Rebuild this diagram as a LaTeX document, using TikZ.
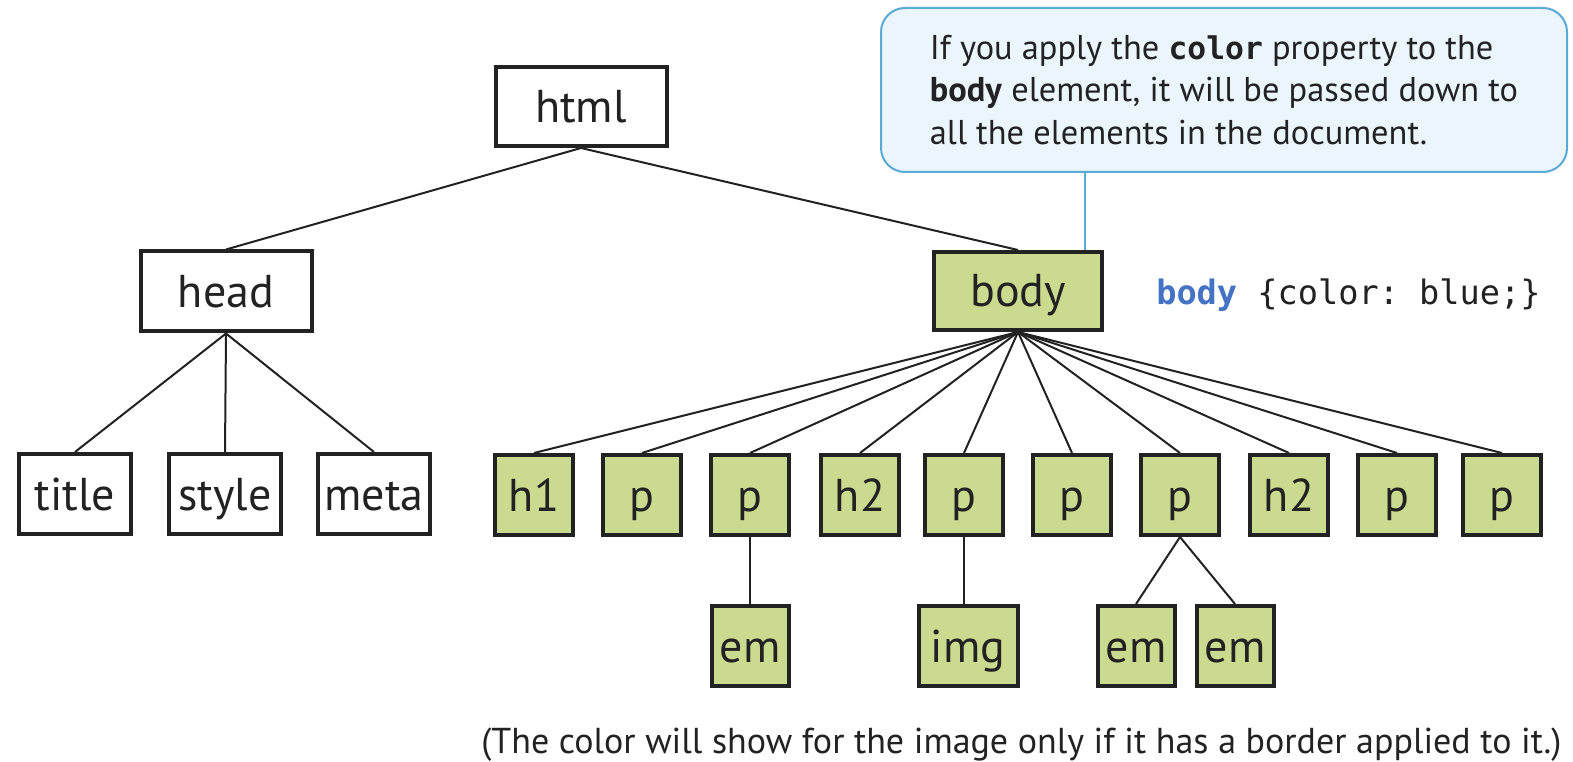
\documentclass[tikz,border=0pt]{standalone}
\usepackage{fontspec}
\setmainfont{PT Sans}
\setmonofont{DejaVu Sans Mono}
\usetikzlibrary{calc}
\definecolor{boxgreen}{HTML}{CADB8F}
\definecolor{edgedark}{HTML}{222222}
\definecolor{calloutfill}{HTML}{EAF5FC}
\definecolor{calloutline}{HTML}{5AAAD8}
\definecolor{cssblue}{HTML}{4472C4}
\begin{document}
\begin{tikzpicture}[x=0.75pt,y=-0.75pt,
  tag/.style={draw=edgedark, line width=3pt, inner sep=0pt,
    font=\fontsize{34.5}{40}\selectfont, text height=25.5pt, text depth=1.5pt, text=edgedark},
  plainbox/.style={tag, fill=white},
  greenbox/.style={tag, fill=boxgreen, minimum width=58.5pt, minimum height=60pt},
  link/.style={draw=edgedark, line width=1.5pt},
  callbox/.style={draw=calloutline, fill=calloutfill, line width=1.5pt, rounded corners=18pt,
    minimum width=514.5pt, minimum height=123pt, align=left,
    inner sep=0pt, font=\fontsize{25.8}{32}\selectfont, text=edgedark},
  callink/.style={draw=calloutline, line width=1.5pt}
]
\useasboundingbox (0,0) rectangle (1573,762);

% top levels
\node[plainbox, minimum width=128.25pt, minimum height=59.25pt] (html) at (581,106.5) {html};
\node[plainbox, minimum width=128.25pt, minimum height=60pt] (head) at (226,291.5) {head};
\node[greenbox, minimum width=126pt, minimum height=58.5pt] (body) at (1018,291) {body};

% head children
\node[plainbox, minimum width=84pt, minimum height=60pt] (title) at (75,494) {title};
\node[plainbox, minimum width=84pt, minimum height=60pt] (style) at (225,494) {style};
\node[plainbox, minimum width=84pt, minimum height=60pt] (meta) at (374,494) {meta};

% body children
\node[greenbox] (h1) at (534,495) {h1};
\node[greenbox] (pa) at (642,495) {p};
\node[greenbox] (pb) at (750,495) {p};
\node[greenbox] (h2a) at (860,495) {h2};
\node[greenbox] (pc) at (964,495) {p};
\node[greenbox] (pd) at (1072,495) {p};
\node[greenbox] (pe) at (1180,495) {p};
\node[greenbox] (h2b) at (1289,495) {h2};
\node[greenbox] (pf) at (1397,495) {p};
\node[greenbox] (pg) at (1502,495) {p};

% third level
\node[greenbox, minimum width=57.75pt] (ema) at (750,646) {em};
\node[greenbox, minimum width=74.25pt] (img) at (968,646) {img};
\node[greenbox, minimum width=57.75pt] (emb) at (1136,646) {em};
\node[greenbox, minimum width=57.75pt] (emc) at (1235,646) {em};

% connectors
\draw[link] (html.south) -- (head.north);
\draw[link] (html.south) -- (body.north);
\foreach \c in {title,style,meta} \draw[link] (head.south) -- (\c.north);
\foreach \c in {h1,pa,pb,h2a,pc,pd,pe,h2b,pf,pg} \draw[link] (body.south) -- (\c.north);
\draw[link] (pb.south) -- (pb.south |- ema.north);
\draw[link] (pc.south) -- (pc.south |- img.north);
\draw[link] (pe.south) -- (emb.north);
\draw[link] (pe.south) -- (emc.north);

% callout
\node[callbox] (callout) at (1224,90) {If you apply the {\ttfamily\bfseries\fontsize{23.5}{32}\selectfont color} property to the\\
\textbf{body} element, it will be passed down to\\
all the elements in the document.};
\coordinate (tip) at (1085,250);
\draw[callink] (callout.south -| tip) -- (tip);

% css rule
\node[anchor=base west, inner sep=0pt, text=edgedark, font=\ttfamily\fontsize{25.2}{28}\selectfont] (css) at (1156,305) {\textcolor{cssblue}{\bfseries body} \{color: blue;\}};

% caption
\node[anchor=base west, inner sep=0pt, text=edgedark, font=\fontsize{27}{30}\selectfont] (note) at (481,753) {(The color will show for the image only if it has a border applied to it.)};
\end{tikzpicture}
\end{document}
